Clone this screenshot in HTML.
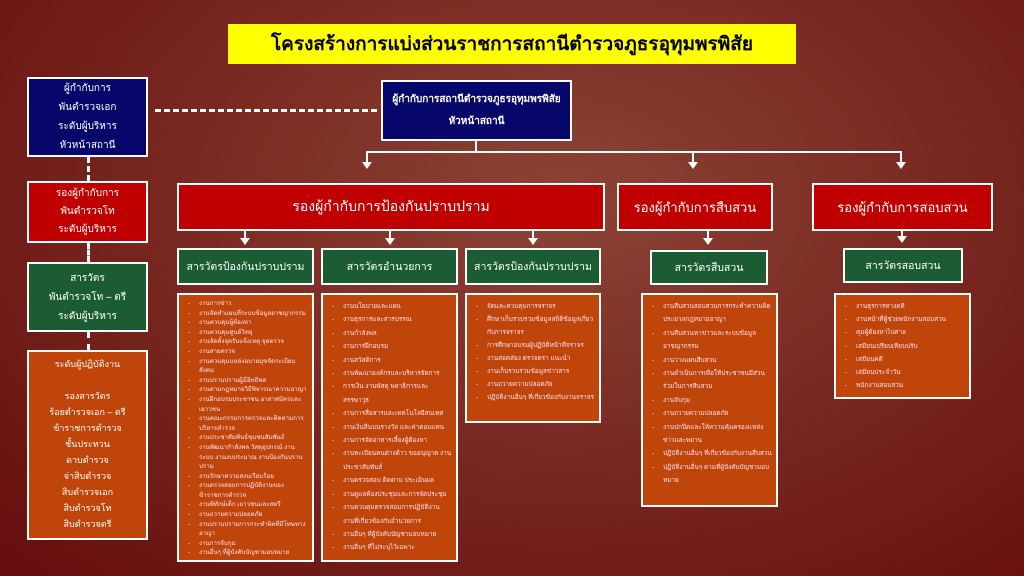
<!DOCTYPE html>
<html><head><meta charset="utf-8"><style>
*{margin:0;padding:0;box-sizing:border-box}
body{width:1024px;height:576px;overflow:hidden;position:relative;font-family:"Liberation Sans","Noto Sans CJK SC",sans-serif;background:radial-gradient(ellipse at 55% 35%,#8c4436 0%,#7a2a22 45%,#650d0d 100%);color:#fff}
.b{position:absolute;border:2px solid #fff;display:flex;flex-direction:column;align-items:center;justify-content:center;text-align:center}
.blue{background:#07076b}.red{background:#c00000}.green{background:#1c5c33}.or{background:#c0450b}
.l{position:absolute;background:#fff}
.dv{position:absolute;border-left:3px dashed #fff;width:0}
.ar{position:absolute;width:0;height:0;border-left:5px solid transparent;border-right:5px solid transparent;border-top:7px solid #fff}
ul{list-style:none;text-align:left;width:100%}
li{position:relative;padding-left:16px}
li:before{content:"-";position:absolute;left:5px}
.lst{position:absolute;border:2px solid #fff;background:#c0450b;padding:5px 4px;font-size:7px;color:#fde;overflow:hidden}
</style></head><body>
<div class="b" style="left:228px;top:24px;width:568px;height:40px;background:#ffff00;border:none;color:#000;font-weight:bold;font-size:19px">โครงสร้างการแบ่งส่วนราชการสถานีตำรวจภูธรอุทุมพรพิสัย</div>

<div class="b blue" style="left:27px;top:77px;width:121px;height:80px;font-size:10px;line-height:19px">ผู้กำกับการ<br>พันตำรวจเอก<br>ระดับผู้บริหาร<br>หัวหน้าสถานี</div>
<div class="dv" style="left:87px;top:157px;height:24px"></div>
<div class="b red" style="left:27px;top:181px;width:121px;height:62px;font-size:10px;line-height:18px">รองผู้กำกับการ<br>พันตำรวจโท<br>ระดับผู้บริหาร</div>
<div class="dv" style="left:87px;top:243px;height:19px"></div>
<div class="b green" style="left:27px;top:262px;width:121px;height:70px;font-size:10px;line-height:19px">สารวัตร<br>พันตำรวจโท – ตรี<br>ระดับผู้บริหาร</div>
<div class="dv" style="left:87px;top:332px;height:18px"></div>
<div class="b or" style="left:27px;top:350px;width:121px;height:190px;font-size:9px;line-height:16px;justify-content:flex-start;padding-top:4px">ระดับผู้ปฏิบัติงาน<br><br>รองสารวัตร<br>ร้อยตำรวจเอก – ตรี<br>ข้าราชการตำรวจ<br>ชั้นประทวน<br>ดาบตำรวจ<br>จ่าสิบตำรวจ<br>สิบตำรวจเอก<br>สิบตำรวจโท<br>สิบตำรวจตรี</div>

<div style="position:absolute;left:155px;top:109px;width:222px;border-top:3px dashed #fff"></div>
<div class="b blue" style="left:381px;top:80px;width:191px;height:61px;font-size:10px;font-weight:bold;line-height:22px">ผู้กำกับการสถานีตำรวจภูธรอุทุมพรพิสัย<br>หัวหน้าสถานี</div>
<div class="l" style="left:475px;top:141px;width:2px;height:11px"></div>
<div class="l" style="left:366px;top:151px;width:536px;height:2px"></div>
<div class="l" style="left:366px;top:151px;width:2px;height:12px"></div><div class="ar" style="left:362px;top:162px"></div>
<div class="l" style="left:692px;top:151px;width:2px;height:12px"></div><div class="ar" style="left:688px;top:162px"></div>
<div class="l" style="left:900px;top:151px;width:2px;height:12px"></div><div class="ar" style="left:896px;top:162px"></div>

<div class="b red" style="left:177px;top:183px;width:428px;height:48px;font-size:14px">รองผู้กำกับการป้องกันปราบปราม</div>
<div class="b red" style="left:617px;top:183px;width:156px;height:48px;font-size:13px">รองผู้กำกับการสืบสวน</div>
<div class="b red" style="left:812px;top:183px;width:181px;height:48px;font-size:13px">รองผู้กำกับการสอบสวน</div>

<div class="l" style="left:244px;top:231px;width:2px;height:8px"></div><div class="ar" style="left:240px;top:238px"></div>
<div class="l" style="left:389px;top:231px;width:2px;height:8px"></div><div class="ar" style="left:385px;top:238px"></div>
<div class="l" style="left:532px;top:231px;width:2px;height:8px"></div><div class="ar" style="left:528px;top:238px"></div>
<div class="l" style="left:707px;top:231px;width:2px;height:8px"></div><div class="ar" style="left:703px;top:238px"></div>
<div class="l" style="left:901px;top:231px;width:2px;height:6px"></div><div class="ar" style="left:897px;top:236px"></div>

<div class="b green" style="left:177px;top:248px;width:137px;height:37px;font-size:10.5px">สารวัตรป้องกันปราบปราม</div>
<div class="b green" style="left:321px;top:248px;width:137px;height:37px;font-size:10.5px">สารวัตรอำนวยการ</div>
<div class="b green" style="left:465px;top:248px;width:136px;height:37px;font-size:10.5px">สารวัตรป้องกันปราบปราม</div>
<div class="b green" style="left:650px;top:250px;width:118px;height:35px;font-size:10.5px">สารวัตรสืบสวน</div>
<div class="b green" style="left:843px;top:248px;width:120px;height:35px;font-size:10.5px">สารวัตรสอบสวน</div>

<div class="lst" style="left:177px;top:293px;width:137px;height:269px;line-height:9.6px;font-size:6.2px;padding-top:4px"><ul>
<li>งานการข่าว</li><li>งานจัดทำแผนที่ระบบข้อมูลอาชญากรรม</li><li>งานควบคุมผู้ต้องหา</li><li>งานควบคุมศูนย์วิทยุ</li><li>งานจัดตั้งจุดรับแจ้งเหตุ จุดตรวจ</li><li>งานสายตรวจ</li><li>งานควบคุมแหล่งอบายมุขจัดระเบียบสังคม</li><li>งานปราบปรามผู้มีอิทธิพล</li><li>งานตามกฎหมายวิธีพิจารณาความอาญา</li><li>งานฝึกอบรมประชาชน อาสาสมัครและเยาวชน</li><li>งานคณะกรรมการตรวจและติดตามการบริหารตำรวจ</li><li>งานประชาสัมพันธ์ชุมชนสัมพันธ์</li><li>งานพัฒนากำลังพล วัสดุอุปกรณ์ งานระบบ งานงบประมาณ งานป้องกันปราบปราม</li><li>งานรักษาความสงบเรียบร้อย</li><li>งานตรวจสอบการปฏิบัติงานของข้าราชการตำรวจ</li><li>งานพิทักษ์เด็ก เยาวชนและสตรี</li><li>งานถวายความปลอดภัย</li><li>งานปราบปรามการกระทำผิดที่มีโทษทางอาญา</li><li>งานการจับกุม</li><li>งานอื่นๆ ที่ผู้บังคับบัญชามอบหมาย</li></ul></div>

<div class="lst" style="left:321px;top:293px;width:137px;height:269px;line-height:13.4px;font-size:6.4px"><ul>
<li>งานนโยบายและแผน</li><li>งานธุรการและสารบรรณ</li><li>งานกำลังพล</li><li>งานการฝึกอบรม</li><li>งานสวัสดิการ</li><li>งานพัฒนาองค์กรและบริหารจัดการ</li><li>การเงิน งานพัสดุ พลาธิการและสรรพาวุธ</li><li>งานการสื่อสารและเทคโนโลยีสนเทศ</li><li>งานเงินสินบนรางวัล และค่าตอบแทน</li><li>งานการจัดอาหารเลี้ยงผู้ต้องหา</li><li>งานทะเบียนคนต่างด้าว ขออนุญาต งานประชาสัมพันธ์</li><li>งานตรวจสอบ ติดตาม ประเมินผล</li><li>งานดูแลห้องประชุมและการจัดประชุม</li><li>งานควบคุมตรวจสอบการปฏิบัติงาน งานที่เกี่ยวข้องกับอำนวยการ</li><li>งานอื่นๆ ที่ผู้บังคับบัญชามอบหมาย</li><li>งานอื่นๆ ที่ไม่ระบุไว้เฉพาะ</li></ul></div>

<div class="lst" style="left:465px;top:293px;width:136px;height:130px;line-height:13px;font-size:6.4px"><ul>
<li>จัดและควบคุมการจราจร</li><li>ศึกษาเก็บรวบรวมข้อมูลสถิติข้อมูลเกี่ยวกับการจราจร</li><li>การศึกษาอบรมผู้ปฏิบัติหน้าที่จราจร</li><li>งานสอดส่อง ตรวจตรา แนะนำ</li><li>งานเก็บรวบรวมข้อมูลข่าวสาร</li><li>งานถวายความปลอดภัย</li><li>ปฏิบัติงานอื่นๆ ที่เกี่ยวข้องกับงานจราจร</li></ul></div>

<div class="lst" style="left:641px;top:293px;width:137px;height:214px;line-height:13.4px;font-size:6.4px"><ul>
<li>งานสืบสวนสอบสวนการกระทำความผิดประมวลกฎหมายอาญา</li><li>งานสืบสวนหาข่าวและระบบข้อมูลอาชญากรรม</li><li>งานวางแผนสืบสวน</li><li>งานดำเนินการเพื่อให้ประชาชนมีส่วนร่วมในการสืบสวน</li><li>งานจับกุม</li><li>งานถวายความปลอดภัย</li><li>งานปกปิดและให้ความคุ้มครองแหล่งข่าวและพยาน</li><li>ปฏิบัติงานอื่นๆ ที่เกี่ยวข้องกับงานสืบสวน</li><li>ปฏิบัติงานอื่นๆ ตามที่ผู้บังคับบัญชามอบหมาย</li></ul></div>

<div class="lst" style="left:834px;top:293px;width:137px;height:106px;line-height:13.2px;font-size:6.4px"><ul>
<li>งานธุรการทางคดี</li><li>งานหน้าที่ผู้ช่วยพนักงานสอบสวน</li><li>คุมผู้ต้องหาไปศาล</li><li>เสมียนเปรียบเทียบปรับ</li><li>เสมียนคดี</li><li>เสมียนประจำวัน</li><li>พนักงานสอบสวน</li></ul></div>
</body></html>
